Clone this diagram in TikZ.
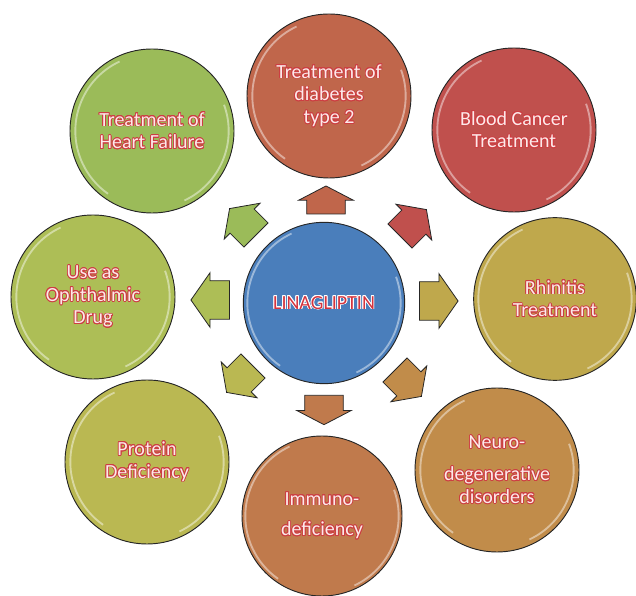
\documentclass[tikz,border=0pt]{standalone}
\usepackage{fontspec}
\setmainfont{Carlito}
\usepackage{contour}
\usepackage{tikz}
\usetikzlibrary{shapes.arrows}

\definecolor{linablau}{HTML}{4A7EBB}
\definecolor{diabfarbe}{HTML}{C0664B}
\definecolor{blutfarbe}{HTML}{C0504D}
\definecolor{rhinfarbe}{HTML}{BFA84C}
\definecolor{neurofarbe}{HTML}{C18C4A}
\definecolor{immunfarbe}{HTML}{C07A4C}
\definecolor{protfarbe}{HTML}{BAB852}
\definecolor{augenfarbe}{HTML}{ADBE56}
\definecolor{herzfarbe}{HTML}{9BBB59}
\definecolor{textrosa}{RGB}{252,234,234}
\definecolor{randrot}{RGB}{205,62,66}
\definecolor{linarot}{RGB}{212,52,62}

\contourlength{0.6pt}
\newcommand{\rand}[1]{\contour{randrot}{#1}}
\newcommand{\mitte}[1]{\contour{white}{#1}}

\begin{document}
\begin{tikzpicture}[x=0.75pt,y=0.75pt,
	kreis/.style={circle, draw=black!85, line width=0.7pt, fill=#1, minimum size=123pt,
		inner sep=0pt, align=center, text=textrosa,
		path picture={
			\draw[white, opacity=.45, line width=1.4pt] ([shift={(115:57.5pt)}]path picture bounding box.center) arc (115:235:57.5pt);
			\draw[white, opacity=.45, line width=1.4pt] ([shift={(-65:57.5pt)}]path picture bounding box.center) arc (-65:20:57.5pt);}},
	pfeil/.style={single arrow, draw=black!85, line width=0.6pt, fill=#1, minimum width=41pt,
		minimum height=29pt, single arrow head extend=6pt, single arrow tip angle=110,
		inner xsep=0pt, inner ysep=14pt}]
	\tikzstyle{every node}=[font=\fontsize{15}{17}\selectfont]
	\useasboundingbox (0,0) rectangle (636,596);
	
	%Kreise
	\node[kreis=linablau, minimum size=121pt, text=linarot] (lina) at (324,293) {\mitte{LINAGLIPTIN}};
	\node[kreis=diabfarbe] (diab) at (329,500) {\rand{Treatment of}\\\rand{diabetes}\\\rand{type 2}};
	\node[kreis=blutfarbe] (blut) at (514,466) {\rand{Blood Cancer}\\\rand{Treatment}};
	\node[kreis=rhinfarbe, minimum size=122pt] (rhin) at (555,297) {\rand{Rhinitis}\\\rand{Treatment}};
	\node[kreis=neurofarbe] (neuro) at (497,126) {\rand{Neuro-}\\[7pt]\rand{degenerative}\\\rand{disorders}};
	\node[kreis=immunfarbe, minimum size=120pt] (immun) at (322,80) {\rand{Immuno-}\\[6pt]\rand{deficiency}};
	\node[kreis=protfarbe] (prot) at (147,134) {\rand{Protein}\\\rand{Deficiency}};
	\node[kreis=augenfarbe] (augen) at (93,299) {\rand{Use as}\\\rand{Ophthalmic}\\\rand{Drug}};
	\node[kreis=herzfarbe] (herz) at (152,465) {\rand{Treatment of}\\\rand{Heart Failure}};
	
	%Pfeile
	\node[pfeil=diabfarbe, rotate=90, minimum height=21pt, single arrow tip angle=125] (p1) at (326,391) {};
	\node[pfeil=blutfarbe, rotate=45, minimum height=28pt, minimum width=38pt, inner ysep=12pt] (p2) at (409,369) {};
	\node[pfeil=rhinfarbe, rotate=0] (p3) at (432,295) {};
	\node[pfeil=neurofarbe, rotate=-45, minimum height=28pt, minimum width=38pt, inner ysep=12pt] (p4) at (404,217) {};
	\node[pfeil=immunfarbe, rotate=-90, minimum height=22pt, single arrow tip angle=125] (p5) at (324,191) {};
	\node[pfeil=protfarbe, rotate=-135, minimum height=28pt, minimum width=38pt, inner ysep=12pt] (p6) at (244,221) {};
	\node[pfeil=augenfarbe, rotate=180] (p7) at (217,296) {};
	\node[pfeil=herzfarbe, rotate=135, minimum height=28pt, minimum width=38pt, inner ysep=12pt] (p8) at (247,370) {};
	
\end{tikzpicture}
\end{document}
